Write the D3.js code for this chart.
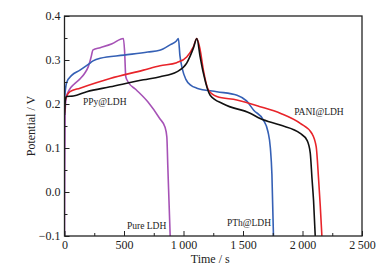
<!DOCTYPE html>
<html>
<head>
<meta charset="utf-8">
<script src="https://cdn.jsdelivr.net/npm/d3@7"></script>
<style>
  body { margin: 0; background: #fff; }
  svg text { font-family: "Liberation Serif", "DejaVu Serif", serif !important; fill: #222; }
</style>
</head>
<body>
<div id="chart"></div>
<script>
// Galvanostatic charge/discharge curves
var pureLDH = [[0,-0.1],[2,0.05],[5,0.18],[15,0.215],[40,0.232],[80,0.245],[130,0.257],[170,0.27],[200,0.285],[222,0.305],[240,0.323],[300,0.328],[400,0.337],[495,0.349],[505,0.32],[515,0.262],[535,0.25],[600,0.233],[700,0.205],[800,0.167],[845,0.147],[860,0.125],[868,0.06],[878,-0.02],[888,-0.1]];
var pthLDH = [[0,0.195],[5,0.225],[20,0.25],[60,0.265],[130,0.277],[200,0.29],[240,0.298],[300,0.304],[500,0.311],[700,0.318],[800,0.322],[890,0.335],[940,0.343],[957,0.349],[970,0.31],[990,0.28],[1020,0.256],[1060,0.243],[1112,0.236],[1280,0.228],[1450,0.22],[1530,0.207],[1590,0.186],[1670,0.164],[1710,0.137],[1730,0.1],[1743,0.04],[1756,-0.1]];
var paniLDH = [[0,0.18],[8,0.21],[46,0.228],[130,0.236],[383,0.258],[663,0.277],[803,0.287],[943,0.294],[1027,0.307],[1083,0.33],[1112,0.349],[1140,0.323],[1167,0.277],[1209,0.232],[1280,0.217],[1448,0.209],[1644,0.194],[1813,0.179],[1981,0.156],[2079,0.133],[2115,0.103],[2135,0.03],[2149,-0.03],[2163,-0.1]];
var ppyLDH = [[0,0.175],[8,0.212],[18,0.217],[74,0.218],[187,0.228],[383,0.239],[663,0.255],[803,0.262],[943,0.273],[1027,0.293],[1083,0.327],[1112,0.349],[1140,0.307],[1167,0.27],[1224,0.22],[1336,0.2],[1560,0.179],[1644,0.167],[1813,0.152],[1981,0.133],[2037,0.118],[2065,0.089],[2080,0.03],[2093,-0.02],[2107,-0.1]];

var series = [
  {name: "Pure LDH", data: pureLDH, color: "#a652b6"},
  {name: "PTh@LDH",  data: pthLDH,  color: "#3560b5"},
  {name: "PANI@LDH", data: paniLDH, color: "#e8242a"},
  {name: "PPy@LDH",  data: ppyLDH,  color: "#111111"}
];

var labels = [
  {text: "PPy@LDH",  x: 155,  y: 0.205},
  {text: "PANI@LDH", x: 1930, y: 0.182},
  {text: "Pure LDH", x: 525,  y: -0.077},
  {text: "PTh@LDH",  x: 1365, y: -0.07}
];

var xTicks = [0, 500, 1000, 1500, 2000, 2500];
var xMinor = [250, 750, 1250, 1750, 2250];
var yTicks = [-0.1, 0.0, 0.1, 0.2, 0.3, 0.4];
var yMinor = [-0.05, 0.05, 0.15, 0.25, 0.35];

var width = 391, height = 271;
var margin = {top: 16, right: 29, bottom: 35, left: 64.5};
var iw = width - margin.left - margin.right;
var ih = height - margin.top - margin.bottom;
var serif = "'Liberation Serif', 'DejaVu Serif', serif";

var svg = d3.select("#chart").append("svg")
    .attr("width", width)
    .attr("height", height);

var g = svg.append("g")
    .attr("transform", "translate(" + margin.left + "," + margin.top + ")");

var x = d3.scaleLinear().domain([0, 2500]).range([0, iw]);
var y = d3.scaleLinear().domain([-0.1, 0.4]).range([ih, 0]);

// thousands with a space, like "1 000"
function fmtX(d) {
    var s = String(d);
    return s.length > 3 ? s.slice(0, s.length - 3) + "\u2009" + s.slice(-3) : s;
}

// clip so curves stay inside the frame
g.append("clipPath").attr("id", "clip")
  .append("rect").attr("width", iw).attr("height", ih);

var line = d3.line()
    .x(function(d) { return x(d[0]); })
    .y(function(d) { return y(d[1]); })
    .curve(d3.curveMonotoneX);

g.append("g").attr("clip-path", "url(#clip)")
  .selectAll("path").data(series).enter().append("path")
    .attr("d", function(d) { return line(d.data); })
    .attr("fill", "none")
    .attr("stroke", function(d) { return d.color; })
    .attr("stroke-width", 1.6);

// axes with inward ticks
var xAxis = d3.axisBottom(x).tickValues(xTicks).tickFormat(fmtX).tickSizeInner(-5).tickSizeOuter(0).tickPadding(4);
var yAxis = d3.axisLeft(y).tickValues(yTicks).tickFormat(d3.format(".1f")).tickSizeInner(-5).tickSizeOuter(0).tickPadding(4);

var gx = g.append("g").attr("transform", "translate(0," + ih + ")").call(xAxis);
var gy = g.append("g").call(yAxis);

g.append("g").attr("transform", "translate(0," + ih + ")")
  .call(d3.axisBottom(x).tickValues(xMinor).tickFormat("").tickSizeInner(-3).tickSizeOuter(0));
g.append("g")
  .call(d3.axisLeft(y).tickValues(yMinor).tickFormat("").tickSizeInner(-3).tickSizeOuter(0));

g.selectAll("g").attr("font-family", serif);
g.selectAll(".domain").remove();
g.selectAll(".tick line").attr("stroke", "#222").attr("stroke-width", 1);
g.selectAll(".tick text").style("font-size", "12px").style("font-family", serif).attr("fill", "#222");

g.append("rect")
    .attr("width", iw).attr("height", ih)
    .attr("fill", "none").attr("stroke", "#222").attr("stroke-width", 1.3);

// curve labels
g.selectAll(".lbl").data(labels).enter().append("text")
    .attr("x", function(d) { return x(d.x); })
    .attr("y", function(d) { return y(d.y); })
    .attr("dy", "0.35em")
    .style("font-size", "9.5px")
    .style("font-family", serif)
    .text(function(d) { return d.text; });

// axis titles
svg.append("text")
    .attr("x", margin.left + iw / 2 - 3)
    .attr("y", 263)
    .attr("text-anchor", "middle")
    .style("font-size", "12px")
    .style("font-family", serif)
    .text("Time / s");

svg.append("text")
    .attr("transform", "translate(35," + (margin.top + ih / 2) + ") rotate(-90)")
    .attr("text-anchor", "middle")
    .style("font-size", "12px")
    .style("font-family", serif)
    .text("Potential / V");
</script>
</body>
</html>
